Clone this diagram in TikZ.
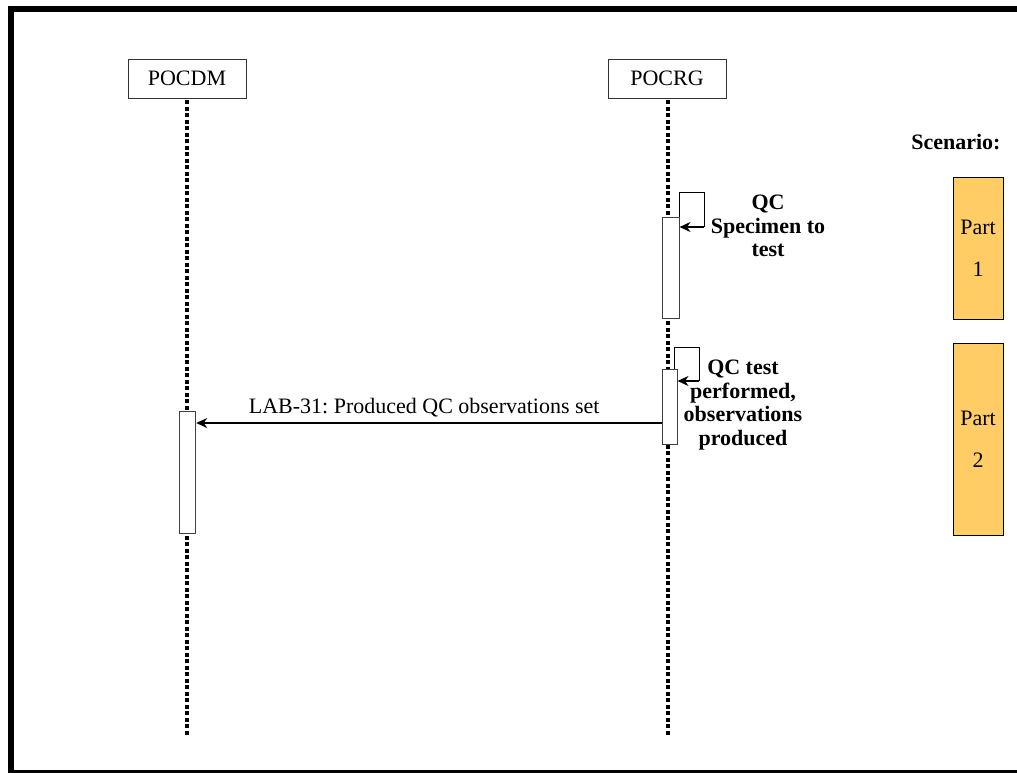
\documentclass[tikz,border=0pt]{standalone}
\usepackage{fontspec}
\setmainfont{Liberation Serif}
\usetikzlibrary{arrows.meta,positioning}
\definecolor{partorange}{HTML}{FFCC66}
\frenchspacing

\tikzset{
  actor/.style={draw=black!80, line width=0.8pt, fill=white, minimum width=118pt,
    minimum height=39pt, inner sep=0pt, font=\fontsize{22}{26}\selectfont},
  lifeline/.style={line width=3.5pt, dash pattern=on 4pt off 2.5pt},
  activation/.style={draw=black!75, line width=1pt, fill=white, minimum width=16pt, inner sep=0pt},
  msg/.style={line width=2pt, -{Stealth[length=11pt,width=10pt]}},
  selfloop/.style={line width=1pt},
  note/.style={font=\fontsize{22}{23.5}\selectfont\bfseries, align=center},
  part/.style={draw=black, line width=1pt, fill=partorange, minimum width=50pt, inner sep=0pt,
    align=center, font=\fontsize{22}{26}\selectfont},
}

\begin{document}
\begin{tikzpicture}[x=1pt, y=-1pt]
    \useasboundingbox (0,0) rectangle (1017,773);

    % Frame
    \draw[line width=6pt] (1020,9) -- (11,9) -- (11,772.5) -- (1020,772.5);

    % Actors
    \node[actor] (cdm) at (187,78.5) {POCDM};
    \node[actor] (crg) at (667,78.5) {POCRG};

    % Lifelines
    \coordinate (cdmend) at (187,737);
    \coordinate (crgend) at (668,737);
    \draw[lifeline] ([yshift=-2pt]cdm.south) -- (cdmend);
    \draw[lifeline] ([xshift=1pt,yshift=-2pt]crg.south) -- (crgend);

    % Activations
    \node[activation, minimum width=17pt, minimum height=101pt] (act1) at (670.5,267.5) {};
    \node[activation, minimum width=15pt, minimum height=75pt] (act2) at (669.5,406.5) {};
    \node[activation, minimum width=16pt, minimum height=122pt] (dmact) at (187.7,472) {};

    % Self message 1
    \coordinate (loop1) at (704,192);
    \draw[selfloop] (act1.north east) |- (loop1) -- ++(0,35) coordinate (loop1end);
    \draw[msg] (loop1end) -- (act1.east |- loop1end);
    \node[note] (note1) at (768,226) {QC\\Specimen to\\test};

    % Self message 2
    \coordinate (loop2) at (699,347);
    \draw[selfloop] ([xshift=-3pt]act2.north east) |- (loop2) -- ++(0,34) coordinate (loop2end);
    \draw[msg] (loop2end) -- (act2.east |- loop2end);
    \node[note] (note2) at (743,405) {QC test\\performed,\\observations\\produced};

    % Message to POCDM
    \draw[msg] ([yshift=-16.5pt]act2.west) -- ([yshift=-16.5pt]act2.west -| dmact.east)
      node[pos=0.51, above=2pt, font=\fontsize{22}{26}\selectfont] (msglbl) {LAB-31: Produced QC observations set};

    % Scenario
    \node[anchor=east, font=\fontsize{22}{26}\selectfont\bfseries] (scen) at (1004,142) {Scenario:};
    \node[part, minimum height=142pt] (part1) at (978,248) {Part\\[16pt]1};
    \node[part, minimum height=192pt] (part2) at (978,439) {Part\\[16pt]2};
\end{tikzpicture}
\end{document}
